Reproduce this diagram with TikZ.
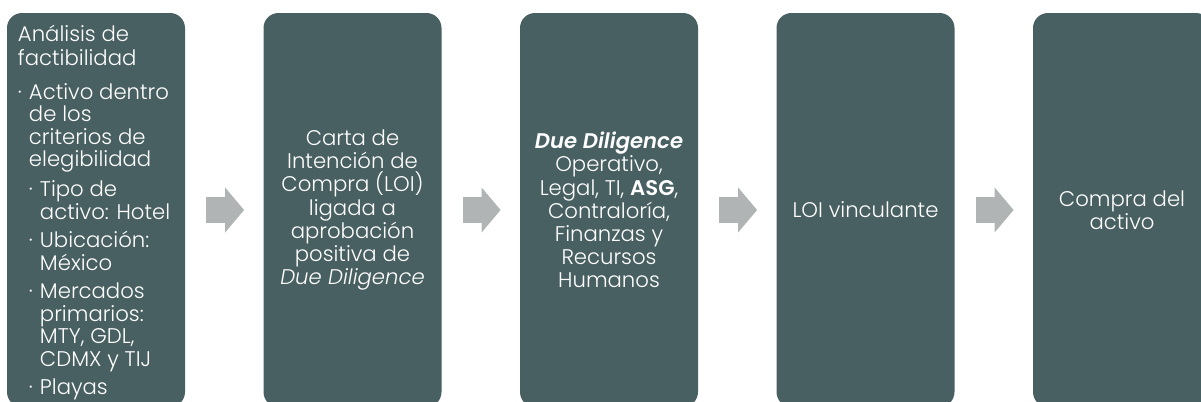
\documentclass[tikz,border=0pt]{standalone}
\usepackage{fontspec}
\setmainfont{Poppins}[UprightFont=* Light, ItalicFont=* Light Italic,
  BoldFont=* SemiBold, BoldItalicFont=* SemiBold Italic]
\usetikzlibrary{arrows.meta}

\definecolor{boxteal}{RGB}{73,96,98}
\definecolor{arrowgray}{RGB}{176,180,181}

\tikzset{
  stepbox/.style={fill=boxteal, rounded corners=7.5pt, minimum width=89pt, minimum height=197pt,
    inner sep=0pt, text=white, align=center, font=\fontsize{10.6}{11.6}\selectfont},
  flow/.style={draw=arrowgray, line width=13pt, -{Triangle[length=9.5pt, width=22pt]},
    shorten <=10.5pt, shorten >=9.5pt}
}
\newcommand{\bul}{\makebox[5.5pt][l]{·}}
\newcommand{\ind}{\hspace*{5.5pt}}

\begin{document}
\begin{tikzpicture}[x=0.5pt, y=-0.5pt]
\useasboundingbox (0,0) rectangle (1201,402);
\clip (0,0) rectangle (1201,402);

\node[stepbox] (factib) at (96,210) {};
\node[stepbox] (carta) at (352.5,210) {Carta de\\ Intención de\\ Compra (LOI)\\ ligada a\\ aprobación\\ positiva de\\ \textit{Due Diligence}};
\node[stepbox] (dued) at (609,210) {\textbf{\textit{Due Diligence}}\\ Operativo,\\ Legal, TI, \textbf{ASG},\\ Contraloría,\\ Finanzas y\\ Recursos\\ Humanos};
\node[stepbox] (loi) at (865.5,210) {LOI vinculante};
\node[stepbox] (compra) at (1122,210) {Compra del\\ activo};

\node[anchor=north west, inner sep=0pt, text=white, align=left, font=\fontsize{10.6}{11.25}\selectfont]
  (factibtxt) at ([xshift=5.5pt, yshift=-6pt]factib.north west)
  {Análisis de\\[0.8pt] factibilidad\\[5.7pt]
   \bul Activo dentro\\ \ind de los\\ \ind criterios de\\ \ind elegibilidad\\[3.7pt]
   \ind\bul Tipo de\\ \ind\ind activo: Hotel\\[3pt]
   \ind\bul Ubicación:\\ \ind\ind México\\[3pt]
   \ind\bul Mercados\\ \ind\ind primarios:\\ \ind\ind MTY, GDL,\\ \ind\ind CDMX y TIJ\\[3pt]
   \ind\bul Playas};

\draw[flow] (factib) -- (carta);
\draw[flow] (carta) -- (dued);
\draw[flow] (dued) -- (loi);
\draw[flow] (loi) -- (compra);
\end{tikzpicture}
\end{document}
